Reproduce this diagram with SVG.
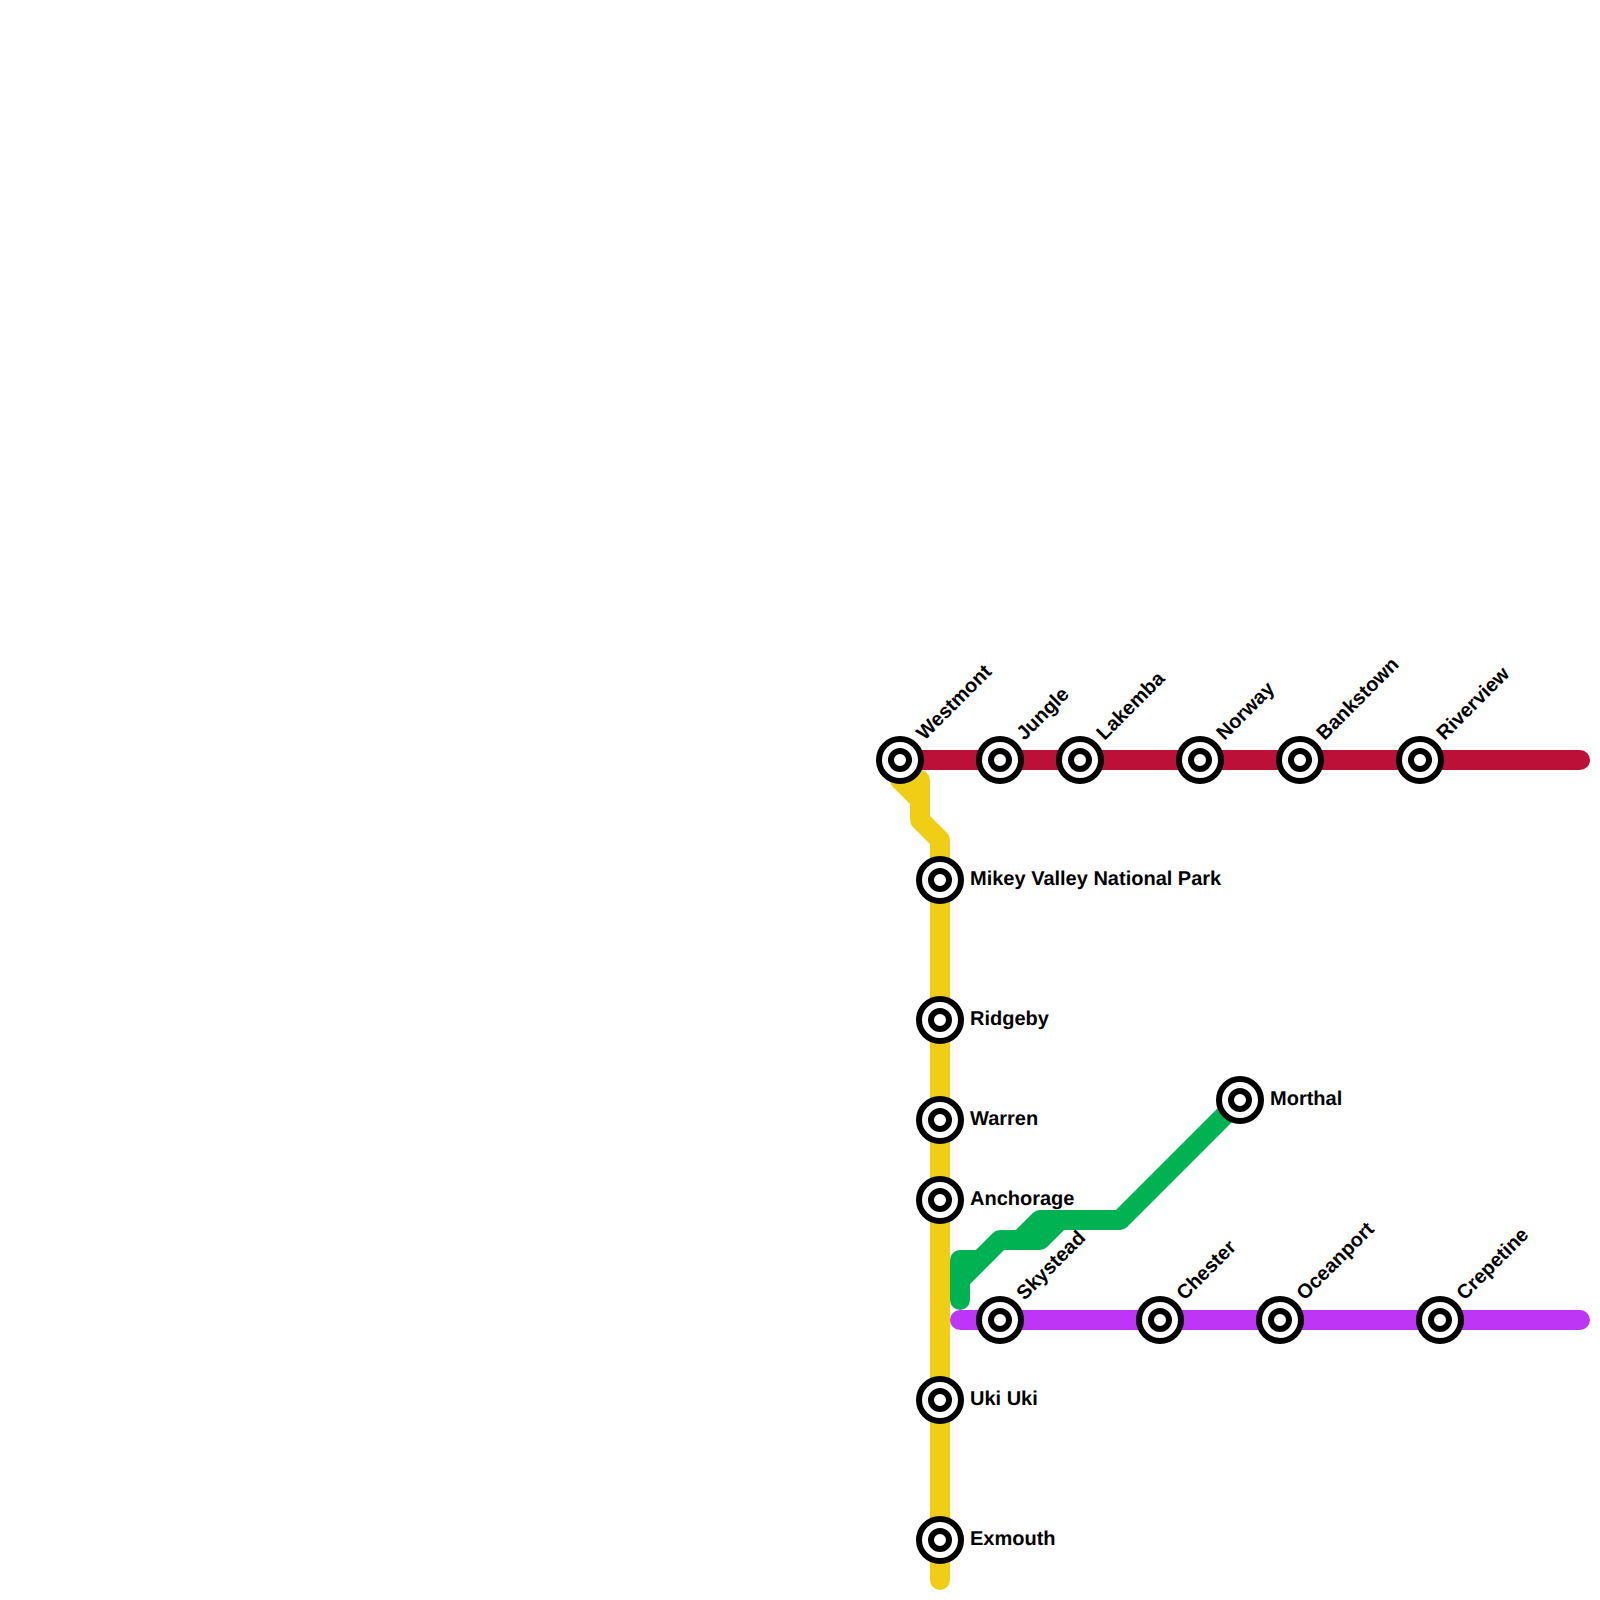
<svg xmlns="http://www.w3.org/2000/svg" width="1600" height="1600" viewBox="0 0 1600 1600">
<style>
.bg{fill:#fff}
.line{fill:none;stroke-width:20;stroke-linecap:round;stroke-linejoin:round}
.ring{fill:none;stroke:#000;stroke-width:6}
.fill{fill:#fff}
text{font-family:"Liberation Sans",Arial,sans-serif;font-weight:700;font-size:20px;fill:#000;text-rendering:geometricPrecision}
</style>
<defs>
<g id="st"><circle class="fill" r="21"/><circle class="ring" r="21"/><circle class="ring" r="9"/></g>
</defs>
<rect class="bg" width="1600" height="1600"/>
<g id="connectors">
<path class="line" stroke="#BD1038" d="M900 760H1580"/>
<path class="line" stroke="#F0CE15" d="M900 780H920V820L940 840V1580M900 780L920 800"/>
<path class="line" stroke="#BD36F5" d="M960 1320H1580"/>
<path class="line" stroke="#00B251" d="M1240 1100L1120 1220H1040L1020 1240H1000L960 1280V1300M960 1280V1260H980M1020 1240H1040L1060 1220"/>
</g>
<g id="westmont"><use href="#st" x="900" y="760"/><text transform="translate(924.5 741) rotate(-45)">Westmont</text></g>
<g id="jungle"><use href="#st" x="1000" y="760"/><text transform="translate(1024.5 741) rotate(-45)">Jungle</text></g>
<g id="lakemba"><use href="#st" x="1080" y="760"/><text transform="translate(1104.5 741) rotate(-45)">Lakemba</text></g>
<g id="norway"><use href="#st" x="1200" y="760"/><text transform="translate(1224.5 741) rotate(-45)">Norway</text></g>
<g id="bankstown"><use href="#st" x="1300" y="760"/><text transform="translate(1324.5 741) rotate(-45)">Bankstown</text></g>
<g id="riverview"><use href="#st" x="1420" y="760"/><text transform="translate(1444.5 741) rotate(-45)">Riverview</text></g>
<g id="mikey"><use href="#st" x="940" y="880"/><text x="970" y="885">Mikey Valley National Park</text></g>
<g id="ridgeby"><use href="#st" x="940" y="1020"/><text x="970" y="1025">Ridgeby</text></g>
<g id="warren"><use href="#st" x="940" y="1120"/><text x="970" y="1125">Warren</text></g>
<g id="anchorage"><use href="#st" x="940" y="1200"/><text x="970" y="1205">Anchorage</text></g>
<g id="ukiuki"><use href="#st" x="940" y="1400"/><text x="970" y="1405">Uki Uki</text></g>
<g id="exmouth"><use href="#st" x="940" y="1540"/><text x="970" y="1545">Exmouth</text></g>
<g id="morthal"><use href="#st" x="1240" y="1100"/><text x="1270" y="1105">Morthal</text></g>
<g id="skystead"><use href="#st" x="1000" y="1320"/><text transform="translate(1024.5 1301) rotate(-45)">Skystead</text></g>
<g id="chester"><use href="#st" x="1160" y="1320"/><text transform="translate(1184.5 1301) rotate(-45)">Chester</text></g>
<g id="oceanport"><use href="#st" x="1280" y="1320"/><text transform="translate(1304.5 1301) rotate(-45)">Oceanport</text></g>
<g id="crepetine"><use href="#st" x="1440" y="1320"/><text transform="translate(1464.5 1301) rotate(-45)">Crepetine</text></g>
</svg>
